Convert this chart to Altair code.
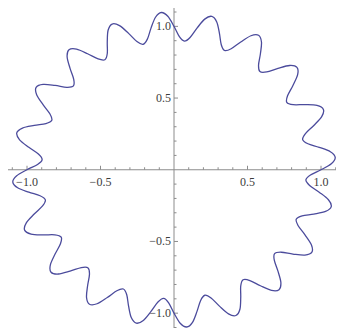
import math
import altair as alt
import pandas as pd

# Polar samples of the wavy closed curve (angle in degrees, radius)
theta_deg = [
    0, 2.25, 4.5, 6.75, 9, 11.25, 13.5, 15.75,
    18, 20.25, 22.5, 24.75, 27, 29.25, 31.5, 33.75,
    36, 38.25, 40.5, 42.75, 45, 47.25, 49.5, 51.75,
    54, 56.25, 58.5, 60.75, 63, 65.25, 67.5, 69.75,
    72, 74.25, 76.5, 78.75, 81, 83.25, 85.5, 87.75,
    90, 92.25, 94.5, 96.75, 99, 101.25, 103.5, 105.75,
    108, 110.25, 112.5, 114.75, 117, 119.25, 121.5, 123.75,
    126, 128.25, 130.5, 132.75, 135, 137.25, 139.5, 141.75,
    144, 146.25, 148.5, 150.75, 153, 155.25, 157.5, 159.75,
    162, 164.25, 166.5, 168.75, 171, 173.25, 175.5, 177.75,
    180, 182.25, 184.5, 186.75, 189, 191.25, 193.5, 195.75,
    198, 200.25, 202.5, 204.75, 207, 209.25, 211.5, 213.75,
    216, 218.25, 220.5, 222.75, 225, 227.25, 229.5, 231.75,
    234, 236.25, 238.5, 240.75, 243, 245.25, 247.5, 249.75,
    252, 254.25, 256.5, 258.75, 261, 263.25, 265.5, 267.75,
    270, 272.25, 274.5, 276.75, 279, 281.25, 283.5, 285.75,
    288, 290.25, 292.5, 294.75, 297, 299.25, 301.5, 303.75,
    306, 308.25, 310.5, 312.75, 315, 317.25, 319.5, 321.75,
    324, 326.25, 328.5, 330.75, 333, 335.25, 337.5, 339.75,
    342, 344.25, 346.5, 348.75, 351, 353.25, 355.5, 357.75,
]
radius = [
    1.0, 1.071, 1.1, 1.071, 1.0, 0.929, 0.9, 0.929,
    1.0, 1.071, 1.1, 1.071, 1.0, 0.929, 0.9, 0.929,
    1.0, 1.071, 1.1, 1.071, 1.0, 0.929, 0.9, 0.929,
    1.0, 1.071, 1.1, 1.071, 1.0, 0.929, 0.9, 0.929,
    1.0, 1.071, 1.1, 1.071, 1.0, 0.929, 0.9, 0.929,
    1.0, 1.071, 1.1, 1.071, 1.0, 0.929, 0.9, 0.929,
    1.0, 1.071, 1.1, 1.071, 1.0, 0.929, 0.9, 0.929,
    1.0, 1.071, 1.1, 1.071, 1.0, 0.929, 0.9, 0.929,
    1.0, 1.071, 1.1, 1.071, 1.0, 0.929, 0.9, 0.929,
    1.0, 1.071, 1.1, 1.071, 1.0, 0.929, 0.9, 0.929,
    1.0, 1.071, 1.1, 1.071, 1.0, 0.929, 0.9, 0.929,
    1.0, 1.071, 1.1, 1.071, 1.0, 0.929, 0.9, 0.929,
    1.0, 1.071, 1.1, 1.071, 1.0, 0.929, 0.9, 0.929,
    1.0, 1.071, 1.1, 1.071, 1.0, 0.929, 0.9, 0.929,
    1.0, 1.071, 1.1, 1.071, 1.0, 0.929, 0.9, 0.929,
    1.0, 1.071, 1.1, 1.071, 1.0, 0.929, 0.9, 0.929,
    1.0, 1.071, 1.1, 1.071, 1.0, 0.929, 0.9, 0.929,
    1.0, 1.071, 1.1, 1.071, 1.0, 0.929, 0.9, 0.929,
    1.0, 1.071, 1.1, 1.071, 1.0, 0.929, 0.9, 0.929,
    1.0, 1.071, 1.1, 1.071, 1.0, 0.929, 0.9, 0.929,
]

major_ticks = [-1.0, -0.5, 0.5, 1.0]
major_labels = ["\u22121.0", "\u22120.5", "0.5", "1.0"]
minor_ticks = [-1.1, -0.9, -0.8, -0.7, -0.6, -0.4, -0.3, -0.2, -0.1,
               0.1, 0.2, 0.3, 0.4, 0.6, 0.7, 0.8, 0.9, 1.1]

# Chart kept inside the 344x336 window minus the 8px page margin
W, H = 328, 320
X_DOMAIN = [-1.1293, 1.1020]
Y_DOMAIN = [-1.1035, 1.1280]
AXIS_COLOR = "#8c8c8c"
LABEL_COLOR = "#3c3c3c"
CURVE_COLOR = "#4b4b9c"
FONT = "Liberation Serif"

xs = alt.Scale(domain=X_DOMAIN, nice=False, zero=False)
ys = alt.Scale(domain=Y_DOMAIN, nice=False, zero=False)

curve = pd.DataFrame({
    "i": list(range(len(theta_deg))),
    "x": [r * math.cos(math.radians(t)) for t, r in zip(theta_deg, radius)],
    "y": [r * math.sin(math.radians(t)) for t, r in zip(theta_deg, radius)],
})
origin = pd.DataFrame({"v": [0.0]})
majors = pd.DataFrame({"v": major_ticks, "zero": [0.0] * len(major_ticks), "label": major_labels})
minors = pd.DataFrame({"v": minor_ticks, "zero": [0.0] * len(minor_ticks)})

x_axis_line = alt.Chart(origin).mark_rule(color=AXIS_COLOR, strokeWidth=1).encode(
    y=alt.Y("v:Q", scale=ys, axis=None), x=alt.value(0), x2=alt.value(W))
y_axis_line = alt.Chart(origin).mark_rule(color=AXIS_COLOR, strokeWidth=1).encode(
    x=alt.X("v:Q", scale=xs, axis=None), y=alt.value(0), y2=alt.value(H))

x_major = alt.Chart(majors).mark_rule(color=AXIS_COLOR, strokeWidth=1, y2Offset=-4).encode(
    x=alt.X("v:Q", scale=xs, axis=None), y=alt.Y("zero:Q", scale=ys, axis=None), y2="zero:Q")
x_minor = alt.Chart(minors).mark_rule(color=AXIS_COLOR, strokeWidth=1, y2Offset=-2.5).encode(
    x=alt.X("v:Q", scale=xs, axis=None), y=alt.Y("zero:Q", scale=ys, axis=None), y2="zero:Q")
y_major = alt.Chart(majors).mark_rule(color=AXIS_COLOR, strokeWidth=1, x2Offset=4).encode(
    y=alt.Y("v:Q", scale=ys, axis=None), x=alt.X("zero:Q", scale=xs, axis=None), x2="zero:Q")
y_minor = alt.Chart(minors).mark_rule(color=AXIS_COLOR, strokeWidth=1, x2Offset=2.5).encode(
    y=alt.Y("v:Q", scale=ys, axis=None), x=alt.X("zero:Q", scale=xs, axis=None), x2="zero:Q")

x_labels = alt.Chart(majors).mark_text(
    font=FONT, fontSize=12, color=LABEL_COLOR, align="center", baseline="middle", dy=12
).encode(x=alt.X("v:Q", scale=xs, axis=None), y=alt.Y("zero:Q", scale=ys, axis=None), text="label:N")
y_labels = alt.Chart(majors).mark_text(
    font=FONT, fontSize=12, color=LABEL_COLOR, align="right", baseline="middle", dx=-3
).encode(y=alt.Y("v:Q", scale=ys, axis=None), x=alt.X("zero:Q", scale=xs, axis=None), text="label:N")

line = alt.Chart(curve).mark_line(
    interpolate="cardinal-closed", color=CURVE_COLOR, strokeWidth=1.3
).encode(
    x=alt.X("x:Q", scale=xs, axis=None),
    y=alt.Y("y:Q", scale=ys, axis=None),
    order="i:Q",
)

chart = alt.layer(
    x_axis_line, y_axis_line, x_minor, x_major, y_minor, y_major, x_labels, y_labels, line
).properties(
    width=W, height=H, padding=0, autosize="none", background="white"
).configure_view(stroke=None)

chart.save("out.html", embed_options={"renderer": "svg", "actions": False})
